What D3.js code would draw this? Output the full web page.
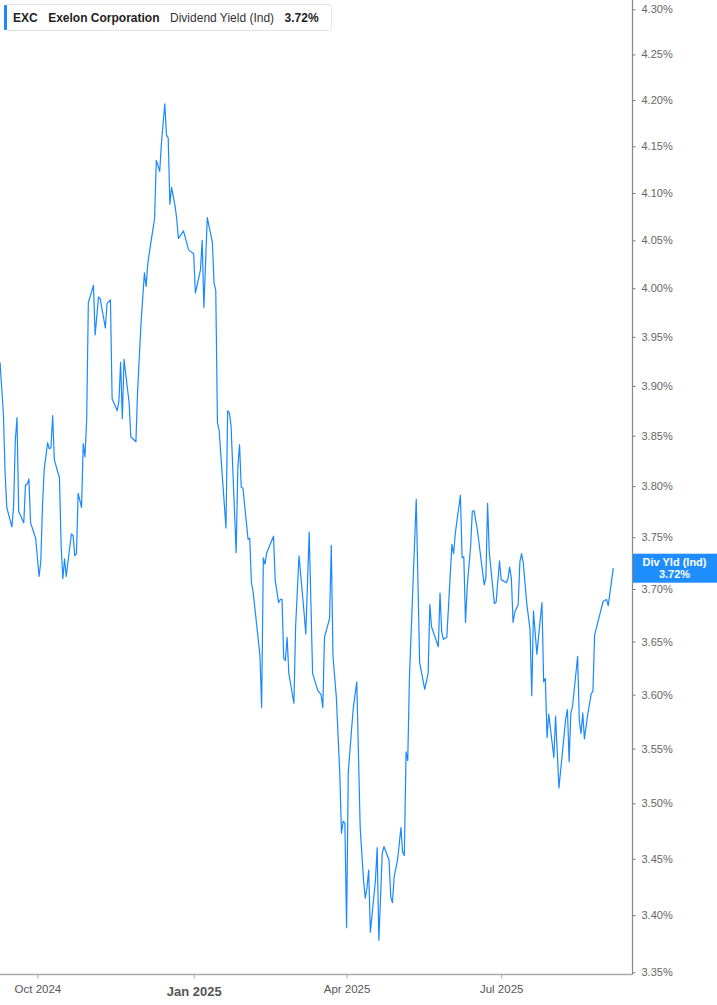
<!DOCTYPE html>
<meta charset="utf-8">

<head>
  <title>EXC dividend yield</title>
</head>

<style>
  body { margin: 0; background: #fff; }
  svg { display: block; font-family: "Liberation Sans", Arial, sans-serif; }
</style>

<body>
  <div id="content">
    <svg width="717" height="1005"></svg>
  </div>

  <script src="https://cdnjs.cloudflare.com/ajax/libs/d3/7.8.5/d3.min.js"></script>

  <script>
    var width = 717,
      height = 1005;

    // trading days (approximate)
    var dates = [
      '2024-09-09', '2024-09-11', '2024-09-12', '2024-09-13', '2024-09-16', '2024-09-17', '2024-09-18', '2024-09-19', '2024-09-20', '2024-09-23',
      '2024-09-24', '2024-09-25', '2024-09-26', '2024-09-27', '2024-09-30', '2024-10-02', '2024-10-03', '2024-10-04', '2024-10-05', '2024-10-07',
      '2024-10-08', '2024-10-09', '2024-10-10', '2024-10-11', '2024-10-14', '2024-10-15', '2024-10-16', '2024-10-17', '2024-10-18', '2024-10-21',
      '2024-10-22', '2024-10-23', '2024-10-24', '2024-10-25', '2024-10-27', '2024-10-28', '2024-10-29', '2024-10-30', '2024-10-31', '2024-11-03',
      '2024-11-04', '2024-11-06', '2024-11-07', '2024-11-10', '2024-11-11', '2024-11-13', '2024-11-14', '2024-11-17', '2024-11-18', '2024-11-19',
      '2024-11-20', '2024-11-21', '2024-11-24', '2024-11-25', '2024-11-28', '2024-11-29', '2024-12-01', '2024-12-03', '2024-12-04', '2024-12-05',
      '2024-12-07', '2024-12-09', '2024-12-10', '2024-12-12', '2024-12-13', '2024-12-15', '2024-12-16', '2024-12-17', '2024-12-18', '2024-12-19',
      '2024-12-21', '2024-12-22', '2024-12-23', '2024-12-26', '2024-12-29', '2025-01-01', '2025-01-02', '2025-01-05', '2025-01-06', '2025-01-07',
      '2025-01-09', '2025-01-12', '2025-01-13', '2025-01-14', '2025-01-15', '2025-01-16', '2025-01-20', '2025-01-21', '2025-01-22', '2025-01-23',
      '2025-01-26', '2025-01-27', '2025-01-28', '2025-01-29', '2025-01-30', '2025-02-02', '2025-02-03', '2025-02-04', '2025-02-05', '2025-02-09',
      '2025-02-10', '2025-02-11', '2025-02-12', '2025-02-13', '2025-02-17', '2025-02-18', '2025-02-20', '2025-02-21', '2025-02-22', '2025-02-23',
      '2025-02-24', '2025-02-25', '2025-02-26', '2025-03-01', '2025-03-02', '2025-03-04', '2025-03-07', '2025-03-08', '2025-03-10', '2025-03-12',
      '2025-03-15', '2025-03-17', '2025-03-18', '2025-03-19', '2025-03-22', '2025-03-23', '2025-03-24', '2025-03-26', '2025-03-28', '2025-03-29',
      '2025-03-30', '2025-03-31', '2025-04-01', '2025-04-02', '2025-04-04', '2025-04-05', '2025-04-07', '2025-04-09', '2025-04-11', '2025-04-12',
      '2025-04-13', '2025-04-14', '2025-04-15', '2025-04-18', '2025-04-19', '2025-04-20', '2025-04-22', '2025-04-23', '2025-04-26', '2025-04-27',
      '2025-04-28', '2025-04-29', '2025-05-01', '2025-05-03', '2025-05-04', '2025-05-05', '2025-05-06', '2025-05-07', '2025-05-08', '2025-05-12',
      '2025-05-14', '2025-05-17', '2025-05-19', '2025-05-20', '2025-05-21', '2025-05-25', '2025-05-26', '2025-05-27', '2025-05-28', '2025-05-30',
      '2025-06-02', '2025-06-03', '2025-06-04', '2025-06-07', '2025-06-08', '2025-06-09', '2025-06-10', '2025-06-11', '2025-06-13', '2025-06-14',
      '2025-06-15', '2025-06-17', '2025-06-21', '2025-06-22', '2025-06-23', '2025-06-24', '2025-06-27', '2025-06-28', '2025-06-30', '2025-07-01',
      '2025-07-04', '2025-07-05', '2025-07-06', '2025-07-07', '2025-07-08', '2025-07-09', '2025-07-11', '2025-07-12', '2025-07-13', '2025-07-14',
      '2025-07-16', '2025-07-18', '2025-07-19', '2025-07-20', '2025-07-22', '2025-07-25', '2025-07-26', '2025-07-27', '2025-07-28', '2025-07-29',
      '2025-08-01', '2025-08-02', '2025-08-04', '2025-08-08', '2025-08-09', '2025-08-10', '2025-08-11', '2025-08-12', '2025-08-15', '2025-08-16',
      '2025-08-17', '2025-08-18', '2025-08-19', '2025-08-21', '2025-08-23', '2025-08-24', '2025-08-25', '2025-08-27', '2025-08-30', '2025-09-01',
      '2025-09-02', '2025-09-05'
    ];

    // dividend yield (ind), percent
    var yields = [
      3.924, 3.872, 3.813, 3.779, 3.760, 3.780, 3.845, 3.868, 3.775, 3.764,
      3.801, 3.802, 3.807, 3.764, 3.749, 3.712, 3.726, 3.780, 3.816, 3.843,
      3.837, 3.838, 3.870, 3.826, 3.808, 3.741, 3.710, 3.729, 3.712, 3.753,
      3.752, 3.732, 3.734, 3.793, 3.779, 3.842, 3.829, 3.865, 3.985, 4.003,
      3.952, 3.991, 3.989, 3.959, 3.984, 3.988, 3.887, 3.875, 3.885, 3.924,
      3.867, 3.927, 3.883, 3.849, 3.844, 3.895, 3.964, 4.016, 4.002, 4.026,
      4.050, 4.073, 4.135, 4.123, 4.153, 4.196, 4.162, 4.159, 4.088, 4.106,
      4.087, 4.073, 4.052, 4.060, 4.040, 4.036, 3.995, 4.019, 4.050, 3.980,
      4.074, 4.048, 4.005, 3.998, 3.863, 3.855, 3.759, 3.875, 3.873, 3.860,
      3.735, 3.819, 3.841, 3.799, 3.798, 3.748, 3.749, 3.706, 3.697, 3.637,
      3.588, 3.730, 3.724, 3.735, 3.751, 3.708, 3.687, 3.690, 3.690, 3.634,
      3.632, 3.654, 3.620, 3.592, 3.664, 3.732, 3.677, 3.657, 3.755, 3.620,
      3.604, 3.600, 3.588, 3.654, 3.672, 3.742, 3.636, 3.597, 3.527, 3.473,
      3.484, 3.482, 3.389, 3.528, 3.569, 3.588, 3.612, 3.478, 3.431, 3.415,
      3.424, 3.440, 3.385, 3.431, 3.460, 3.378, 3.455, 3.461, 3.449, 3.416,
      3.411, 3.434, 3.449, 3.478, 3.456, 3.453, 3.547, 3.539, 3.616, 3.787,
      3.630, 3.605, 3.620, 3.685, 3.664, 3.645, 3.696, 3.659, 3.652, 3.654,
      3.743, 3.734, 3.754, 3.791, 3.730, 3.731, 3.668, 3.702, 3.741, 3.775,
      3.776, 3.757, 3.704, 3.711, 3.783, 3.735, 3.686, 3.687, 3.727, 3.709,
      3.706, 3.710, 3.721, 3.710, 3.668, 3.678, 3.685, 3.726, 3.734, 3.725,
      3.687, 3.661, 3.599, 3.679, 3.638, 3.687, 3.612, 3.615, 3.560, 3.582,
      3.542, 3.580, 3.514, 3.578, 3.586, 3.538, 3.583, 3.589, 3.636, 3.576,
      3.564, 3.583, 3.559, 3.582, 3.601, 3.603, 3.656, 3.669, 3.688, 3.690,
      3.684, 3.720
    ];

    var yTicks = [4.30, 4.25, 4.20, 4.15, 4.10, 4.05, 4.00, 3.95, 3.90, 3.85,
      3.80, 3.75, 3.70, 3.65, 3.60, 3.55, 3.50, 3.45, 3.40, 3.35];
    var xTickDates = ['2024-10-01', '2025-01-01', '2025-04-01', '2025-07-01'];
    var xTickLabels = ['Oct 2024', 'Jan 2025', 'Apr 2025', 'Jul 2025'];

    var legendParts = [
      { text: 'EXC', weight: 'bold' },
      { text: 'Exelon Corporation', weight: 'bold' },
      { text: 'Dividend Yield (Ind)', weight: 'normal' },
      { text: '3.72%', weight: 'bold' }
    ];
    var lastValue = 3.72;

    var blue = '#1a88ff';
    var parse = d3.utcParse('%Y-%m-%d');

    var data = dates.map(function(d, i) {
      return { date: parse(d), value: yields[i] };
    });

    var plotRight = 632.5,
      plotBottom = 974.5;

    var x = d3.scaleUtc()
      .domain([parse('2024-09-09'), parse('2025-09-16')])
      .range([0, 632]);

    var y = d3.scaleLog()
      .domain([3.35, 4.30])
      .range([972.3, 9.3]);

    var svg = d3.select('svg');

    // line
    var line = d3.line()
      .x(function(d) { return x(d.date); })
      .y(function(d) { return y(d.value); });

    svg.append('path')
      .datum(data)
      .attr('d', line)
      .attr('fill', 'none')
      .attr('stroke', blue)
      .attr('stroke-width', 1.2)
      .attr('stroke-linejoin', 'round');

    // right axis
    var yAxis = d3.axisRight(y)
      .tickValues(yTicks)
      .tickSize(3)
      .tickPadding(6)
      .tickFormat(function(d) { return d.toFixed(2) + '%'; });

    var gy = svg.append('g')
      .attr('transform', 'translate(' + plotRight + ',0)')
      .call(yAxis);
    gy.select('.domain').remove();
    gy.selectAll('.tick line').attr('stroke', '#777');
    gy.selectAll('.tick text')
      .attr('fill', '#666')
      .style('font-size', '11px')
      .style('font-family', '"Liberation Sans", Arial, sans-serif');

    svg.append('line')
      .attr('x1', plotRight).attr('x2', plotRight)
      .attr('y1', 0).attr('y2', plotBottom)
      .attr('stroke', '#888')
      .attr('stroke-width', 1.2);

    // bottom axis
    var xAxis = d3.axisBottom(x)
      .tickValues(xTickDates.map(parse))
      .tickSize(4)
      .tickPadding(6)
      .tickFormat(function(d, i) { return xTickLabels[i]; });

    var gx = svg.append('g')
      .attr('transform', 'translate(0,' + plotBottom + ')')
      .call(xAxis);
    gx.select('.domain').remove();
    gx.selectAll('.tick line').attr('stroke', '#aaa');
    gx.selectAll('.tick text')
      .attr('fill', '#555')
      .style('font-family', '"Liberation Sans", Arial, sans-serif')
      .style('font-size', function(d, i) { return i === 1 ? '13px' : '11.5px'; })
      .style('font-weight', function(d, i) { return i === 1 ? 'bold' : 'normal'; })
      .attr('dy', function(d, i) { return i === 1 ? '0.9em' : '0.71em'; });

    svg.append('line')
      .attr('x1', 0).attr('x2', plotRight)
      .attr('y1', plotBottom).attr('y2', plotBottom)
      .attr('stroke', '#aaa')
      .attr('stroke-width', 1.5);

    // last value badge
    var by = y(lastValue);
    var badge = svg.append('g');
    badge.append('rect')
      .attr('x', plotRight + 0.5)
      .attr('y', by - 14.5)
      .attr('width', width - plotRight)
      .attr('height', 29)
      .attr('fill', '#1e8eff');
    badge.append('text')
      .attr('x', 674.5).attr('y', by - 2.5)
      .attr('text-anchor', 'middle')
      .attr('fill', '#fff')
      .style('font-size', '11px')
      .style('font-weight', 'bold')
      .text('Div Yld (Ind)');
    badge.append('text')
      .attr('x', 674.5).attr('y', by + 10)
      .attr('text-anchor', 'middle')
      .attr('fill', '#fff')
      .style('font-size', '11px')
      .style('font-weight', 'bold')
      .text(lastValue.toFixed(2) + '%');

    // legend box
    var legend = svg.append('g');
    var box = legend.append('rect')
      .attr('x', 4.5).attr('y', 4.5)
      .attr('height', 26)
      .attr('rx', 3)
      .attr('fill', '#fff')
      .attr('stroke', '#e3e3e3');
    legend.append('rect')
      .attr('x', 4).attr('y', 5)
      .attr('width', 3).attr('height', 25)
      .attr('rx', 1)
      .attr('fill', blue);

    var tx = 13;
    legendParts.forEach(function(p) {
      var t = legend.append('text')
        .attr('x', tx).attr('y', 22)
        .attr('fill', p.weight === 'bold' ? '#222' : '#333')
        .style('font-size', '12px')
        .style('font-weight', p.weight)
        .text(p.text);
      tx += t.node().getComputedTextLength() + 10.5;
    });
    box.attr('width', tx - 10.5 + 13 - 4.5);
  </script>
</body>

</html>
